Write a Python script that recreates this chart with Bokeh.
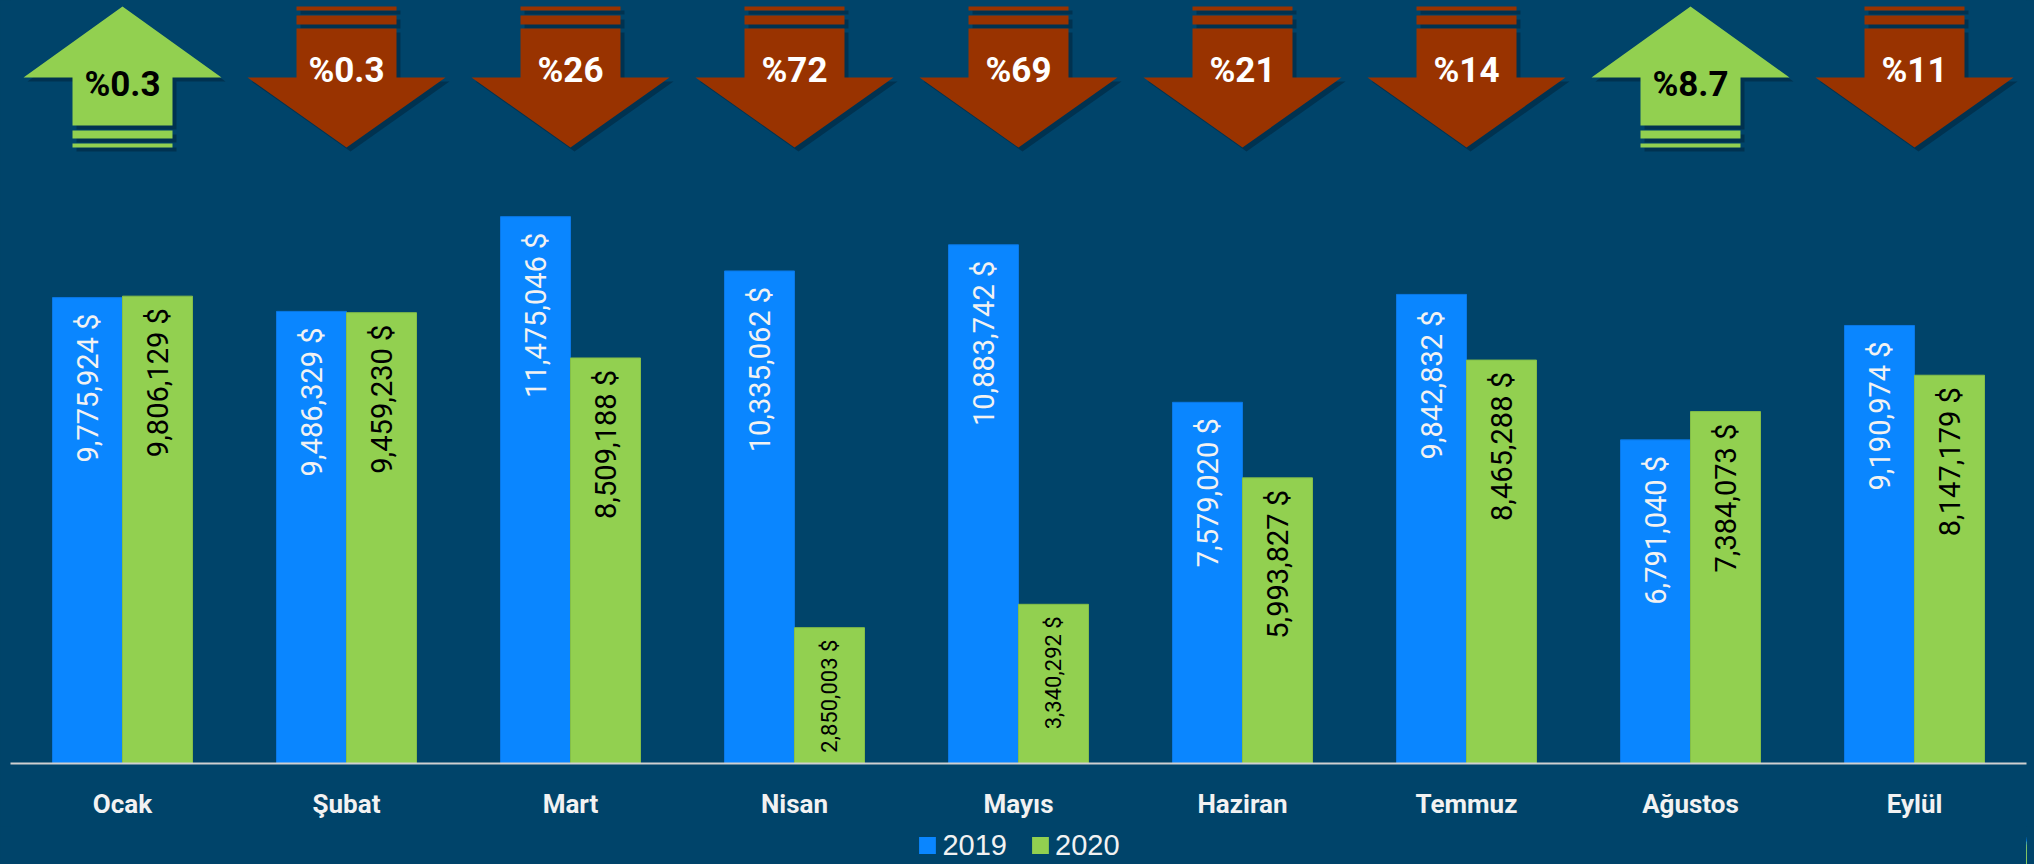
from math import pi
from bokeh.plotting import figure
from bokeh.layouts import column
from bokeh.models import Range1d, FixedTicker, Legend, LegendItem, ColumnDataSource
from bokeh.core.properties import value
from bokeh.embed import file_html
from bokeh.resources import INLINE

# ---------------- data ----------------
months = ["Ocak", "Şubat", "Mart", "Nisan", "Mayıs", "Haziran", "Temmuz", "Ağustos", "Eylül"]
v2019 = [9775924, 9486329, 11475046, 10335062, 10883742, 7579020, 9842832, 6791040, 9190974]
v2020 = [9806129, 9459230, 8509188, 2850003, 3340292, 5993827, 8465288, 7384073, 8147179]
change_labels = ["%0.3", "%0.3", "%26", "%72", "%69", "%21", "%14", "%8.7", "%11"]
trend = ["up", "down", "down", "down", "down", "down", "down", "up", "down"]
series_names = ["2019", "2020"]

# ---------------- style ----------------
BG = "#00446A"
BLUE = "#0A86FF"
GREEN = "#92D050"
BROWN = "#993300"
FONT = "Roboto"

W = 2034
H_MAIN = 826
H_LEG = 38
FRAME_H = 763          # frame height in px (frame bottom = axis line)
Y_MAX = 16010000
N = len(months)
PX_X = (W - 10 - 8) / N  # px per category

p = figure(width=W, height=H_MAIN, output_backend="svg", toolbar_location=None,
           x_range=Range1d(0, N), y_range=Range1d(0, Y_MAX),
           y_axis_location=None, min_border_left=10, min_border_right=8,
           min_border_top=0, min_border_bottom=H_MAIN - FRAME_H,
           background_fill_color=BG, border_fill_color=BG, outline_line_color=None)
p.grid.visible = False

xc = [i + 0.5 for i in range(N)]
BW = 70 / PX_X
x19 = [x - BW / 2 for x in xc]
x20 = [x + BW / 2 for x in xc]

p.vbar(x=x19, top=v2019, width=BW, fill_color=BLUE, line_color="#0A78E6", line_width=1)
p.vbar(x=x20, top=v2020, width=BW, fill_color=GREEN, line_color="#84BE48", line_width=1)

lab19 = [f"{v:,} $" for v in v2019]
lab20 = [f"{v:,} $" for v in v2020]
size20 = ["22px" if v < 4000000 else "29px" for v in v2020]

p.text(x=x19, y=v2019, text=lab19, angle=pi / 2, text_align="right", text_baseline="middle",
       y_offset=16, text_color="#F2F2F2", text_font=value(FONT), text_font_size="29px")
src20 = ColumnDataSource(dict(x=x20, y=v2020, t=lab20, s=size20))
p.text(x="x", y="y", text="t", source=src20, angle=pi / 2, text_align="right",
       text_baseline="middle", y_offset=12, text_color="#000000", text_font=value(FONT),
       text_font_size="s")

# ---------------- arrows ----------------
def ypx(py):
    return Y_MAX * (1 - py / FRAME_H)

UP = [[(0, 6), (99, 77), (50, 77), (50, 125), (-50, 125), (-50, 77), (-99, 77)],
      [(-50, 130), (50, 130), (50, 138), (-50, 138)],
      [(-50, 143), (50, 143), (50, 147), (-50, 147)]]
DOWN = [[(-50, 6), (50, 6), (50, 10), (-50, 10)],
        [(-50, 15), (50, 15), (50, 24), (-50, 24)],
        [(-50, 28), (50, 28), (50, 77), (99, 77), (0, 147), (-99, 77), (-50, 77)]]

sh_xs, sh_ys, ar_xs, ar_ys, ar_col = [], [], [], [], []
for i, t in enumerate(trend):
    shapes = UP if t == "up" else DOWN
    col = GREEN if t == "up" else BROWN
    for poly in shapes:
        ar_xs.append([xc[i] + dx / PX_X for dx, py in poly])
        ar_ys.append([ypx(py) for dx, py in poly])
        sh_xs.append([xc[i] + (dx + 4) / PX_X for dx, py in poly])
        sh_ys.append([ypx(py + 4) for dx, py in poly])
        ar_col.append(col)

p.patches(sh_xs, sh_ys, fill_color="#00253A", fill_alpha=0.55, line_color=None)
p.patches(ar_xs, ar_ys, fill_color=ar_col, line_color=None)

ty = [ypx(84) if t == "up" else ypx(70) for t in trend]
tcol = ["#000000" if t == "up" else "#FFFFFF" for t in trend]
p.text(x=xc, y=ty, text=change_labels, text_color=tcol, text_align="center",
       text_baseline="middle", text_font=value(FONT), text_font_style="bold",
       text_font_size="35px")

# ---------------- axis ----------------
ax = p.xaxis[0]
ax.ticker = FixedTicker(ticks=xc)
ax.major_label_overrides = {x: m for x, m in zip(xc, months)}
ax.axis_line_color = "#D0D0D0"
ax.axis_line_width = 2
ax.major_tick_line_color = None
ax.minor_tick_line_color = None
ax.major_tick_out = 0
ax.major_label_text_color = "#F2F2F2"
ax.major_label_text_font = FONT
ax.major_label_text_font_style = "bold"
ax.major_label_text_font_size = "26px"
ax.major_label_standoff = 25

# ---------------- legend strip ----------------
# same series drawn off-view (range left of data) so only the legend shows
pl = figure(width=W, height=H_LEG, output_backend="svg", toolbar_location=None,
            x_range=Range1d(-2, -1), y_range=Range1d(0, Y_MAX),
            x_axis_location=None, y_axis_location=None,
            min_border=0, background_fill_color=BG, border_fill_color=BG,
            outline_line_color=None)
pl.grid.visible = False
l1 = pl.vbar(x=x19, top=v2019, width=BW, fill_color=BLUE, line_color=None)
l2 = pl.vbar(x=x20, top=v2020, width=BW, fill_color=GREEN, line_color=None)
legend = Legend(items=[LegendItem(label=series_names[0], renderers=[l1]),
                       LegendItem(label=series_names[1], renderers=[l2])],
                orientation="horizontal", location="center",
                glyph_width=21, glyph_height=21, label_standoff=5, spacing=22,
                padding=0, margin=0, background_fill_alpha=0, border_line_alpha=0,
                label_text_color="#F2F2F2", label_text_font="Liberation Sans",
                label_text_font_size="29px")
pl.add_layout(legend, "center")

layout = column(p, pl, spacing=0, styles={"background-color": BG})
open("out.html", "w").write(file_html(layout, INLINE))
